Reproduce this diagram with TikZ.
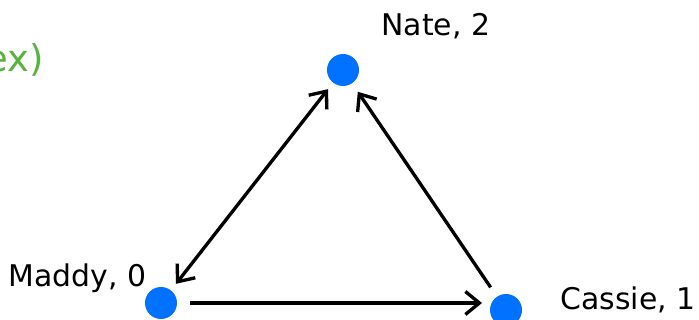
\documentclass[tikz,border=0pt]{standalone}
\usepackage{fontspec}
\setmainfont{DejaVu Sans}
\usetikzlibrary{arrows.meta,positioning}
\definecolor{dotblue}{RGB}{0,114,255}
\definecolor{notegreen}{RGB}{86,180,60}

\begin{document}
\begin{tikzpicture}[
    x=0.02cm, y=-0.02cm,
    person/.style={circle, fill=dotblue, inner sep=0pt, minimum size=0.64cm},
    tag/.style={font=\fontsize{17}{20}\selectfont, text=black, inner sep=0pt},
    arrow/.style={-{Straight Barb[length=2.8mm,width=4.6mm]}, line width=1.9pt},
    biarrow/.style={{Straight Barb[length=2.8mm,width=4.6mm]}-{Straight Barb[length=2.8mm,width=4.6mm]}, line width=1.9pt}
]
\useasboundingbox (0,0) rectangle (699,320);

\node[person] (nate) at (343,70) {};
\node[person] (maddy) at (161,303) {};
\node[person] (cassie) at (506,310) {};

\node[tag, anchor=west] (natelbl) at (381,26) {Nate, 2};
\node[tag, anchor=west] (maddylbl) at (8,278) {Maddy, 0};
\node[tag, anchor=east] (cassielbl) at (696,300) {Cassie, 1};
\node[tag, font=\fontsize{21}{24}\selectfont, text=notegreen, anchor=east] (note) at (44,60) {ex)};

\draw[biarrow, shorten <=0.16cm, shorten >=0.16cm] (maddy) -- (nate);
\draw[arrow, shorten <=0.22cm, shorten >=0.2cm] (cassie) -- (nate);
\draw[arrow, shorten <=0.26cm, shorten >=0.48cm] (maddy) -- (maddy -| cassie);

\end{tikzpicture}
\end{document}
